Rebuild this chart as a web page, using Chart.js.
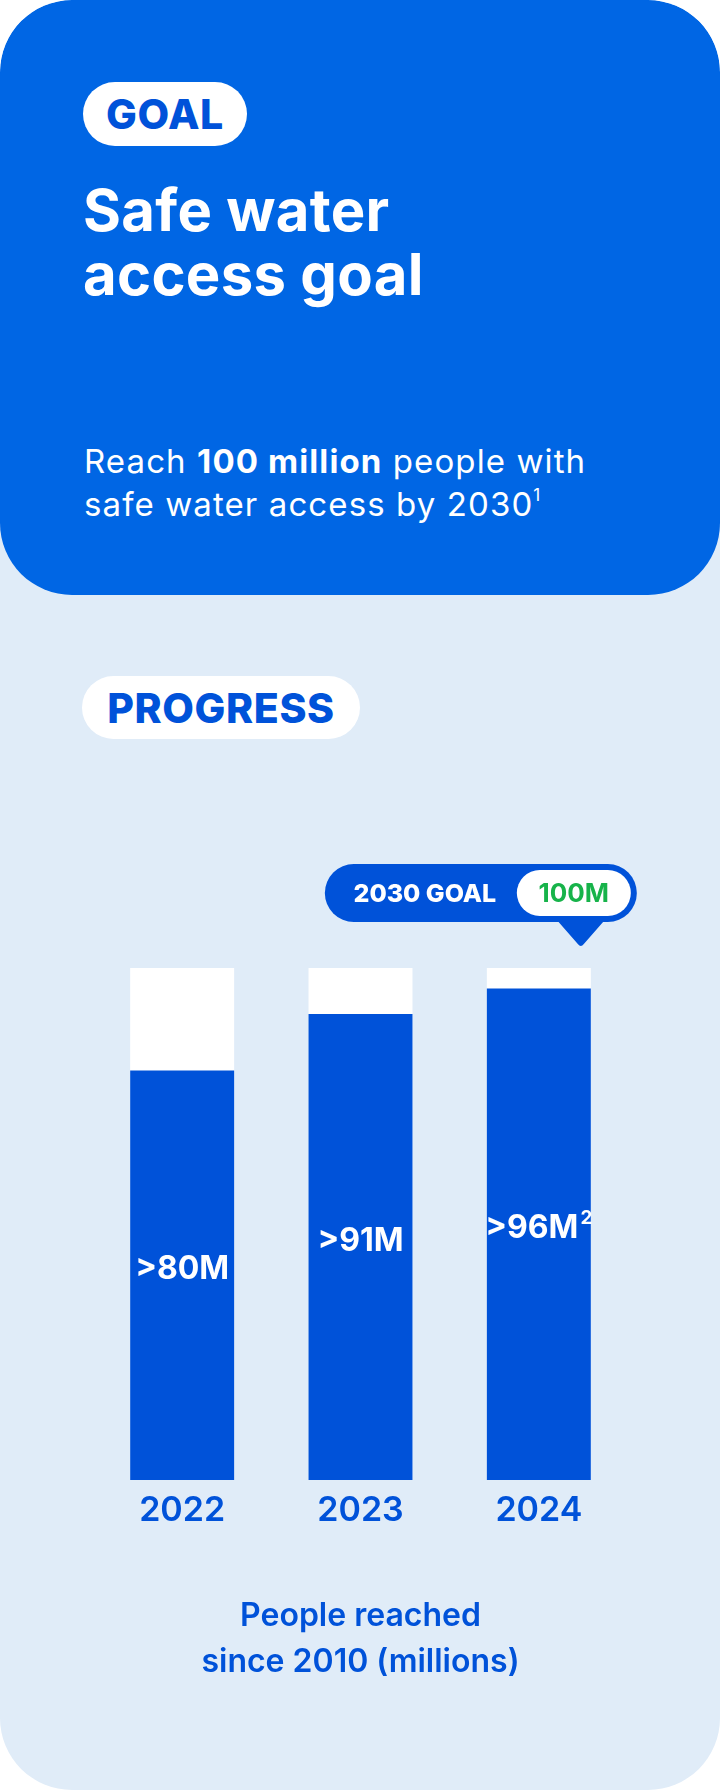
<!DOCTYPE html>
<html lang="en">
<head>
<meta charset="utf-8">
<title>Safe water access goal</title>
<script src="https://cdn.jsdelivr.net/npm/chart.js@4.4.1/dist/chart.umd.min.js"></script>
<style>
    html, body { margin: 0; padding: 0; background: #ffffff; }
    body { width: 720px; height: 1790px; font-family: Inter, "Noto Sans", sans-serif; }
    .panel {
        position: relative; width: 720px; height: 1790px;
        background: #E0ECF8; border-radius: 72px; overflow: hidden;
    }
    .goal-card {
        position: absolute; left: 0; top: 0; width: 720px; height: 595px;
        background: #0066E4; border-radius: 72px;
    }
    .pill {
        position: absolute; background: #ffffff; color: #0052D9;
        font-weight: 800; font-size: 41px; letter-spacing: 0.6px;
        display: flex; align-items: center; justify-content: center;
        border-radius: 32px; height: 64px;
    }
    .title {
        position: absolute; left: 83px; top: 178px; margin: 0;
        color: #ffffff; font-size: 58px; font-weight: 700; line-height: 64px;
        letter-spacing: 0.3px;
    }
    .subtitle {
        position: absolute; left: 84px; top: 440px; margin: 0;
        color: #ffffff; font-size: 33px; font-weight: 400; line-height: 43px;
        letter-spacing: 1.1px;
    }
    .subtitle b { font-weight: 700; }
    .subtitle sup { font-size: 17px; position: relative; top: -3px; vertical-align: top; line-height: 30px; letter-spacing: 0; }
    #chartBox { position: absolute; left: 0; top: 840px; width: 720px; height: 845px; }
</style>
</head>
<body>
<div class="panel">
    <div class="goal-card">
        <div class="pill" style="left:83px; top:82px; width:164px;">GOAL</div>
        <h1 class="title">Safe water<br>access goal</h1>
        <p class="subtitle">Reach <b>100 million</b> people with<br>safe water access by 2030<sup>1</sup></p>
    </div>
    <div class="pill" style="left:82px; top:676px; width:278px; height:63px;">PROGRESS</div>
    <div id="chartBox"><canvas id="progressChart"></canvas></div>
</div>

<script>
// 연도별 도달 인원 (백만 명)
const years = ['2022', '2023', '2024'];
const reachedValues = [80, 91, 96];
const goalValues = [100, 100, 100];
const barLabels = ['>80M', '>91M', '>96M'];
const barFootnotes = ['', '', '2'];
const axisTitle = ['People reached', 'since 2010 (millions)'];
const calloutText = '2030 GOAL';
const calloutValue = '100M';

const BAR_BLUE = '#0052D9';
const GOAL_GREEN = '#17B34A';
const FONT = 'Inter, "Noto Sans", sans-serif';

// 막대 안쪽 값 라벨
const barLabelPlugin = {
    id: 'barLabels',
    afterDatasetsDraw(chart) {
        const ctx = chart.ctx;
        const meta = chart.getDatasetMeta(0);
        ctx.save();
        ctx.fillStyle = '#ffffff';
        ctx.textBaseline = 'middle';
        ctx.textAlign = 'left';
        meta.data.forEach((bar, i) => {
            ctx.font = `700 32px ${FONT}`;
            const mainW = ctx.measureText(barLabels[i]).width;
            ctx.font = `700 19px ${FONT}`;
            const supW = barFootnotes[i] ? ctx.measureText(barFootnotes[i]).width + 2 : 0;
            const x0 = bar.x - (mainW + supW) / 2;
            const y = (bar.y + bar.base) / 2 - 6;
            ctx.font = `700 32px ${FONT}`;
            ctx.fillText(barLabels[i], x0, y);
            if (barFootnotes[i]) {
                ctx.font = `700 19px ${FONT}`;
                ctx.fillText(barFootnotes[i], x0 + mainW + 2, y - 10);
            }
        });
        ctx.restore();
    }
};

// 2030 목표 말풍선
const goalCalloutPlugin = {
    id: 'goalCallout',
    afterDraw(chart) {
        const ctx = chart.ctx;
        const meta = chart.getDatasetMeta(1);
        const bar = meta.data[meta.data.length - 1];
        const tipX = bar.x + 42;
        const tipY = bar.y - 22;
        const left = tipX - 256, right = tipX + 56;
        const top = tipY - 82, bottom = tipY - 24;
        const r = (bottom - top) / 2;

        ctx.save();
        ctx.fillStyle = BAR_BLUE;
        ctx.beginPath();
        ctx.roundRect(left, top, right - left, bottom - top, r);
        ctx.fill();
        // 꼬리
        ctx.beginPath();
        ctx.moveTo(tipX - 24, bottom - 2);
        ctx.lineTo(tipX + 24, bottom - 2);
        ctx.lineTo(tipX + 3, tipY - 2);
        ctx.quadraticCurveTo(tipX, tipY + 2, tipX - 3, tipY - 2);
        ctx.closePath();
        ctx.fill();

        // 안쪽 흰색 캡슐
        const inL = tipX - 64, inR = right - 6;
        const inT = top + 6, inB = bottom - 6;
        ctx.fillStyle = '#ffffff';
        ctx.beginPath();
        ctx.roundRect(inL, inT, inR - inL, inB - inT, (inB - inT) / 2);
        ctx.fill();

        ctx.textBaseline = 'middle';
        ctx.textAlign = 'center';
        ctx.font = `800 25px ${FONT}`;
        ctx.fillStyle = '#ffffff';
        ctx.fillText(calloutText, (left + inL) / 2 + 4, (top + bottom) / 2 + 1);
        ctx.fillStyle = GOAL_GREEN;
        ctx.font = `700 26px ${FONT}`;
        ctx.fillText(calloutValue, (inL + inR) / 2, (top + bottom) / 2 + 1);
        ctx.restore();
    }
};

function createProgressChart() {
    const ctx = document.getElementById('progressChart').getContext('2d');
    return new Chart(ctx, {
        type: 'bar',
        data: {
            labels: years,
            datasets: [
                {
                    label: 'Reached',
                    data: reachedValues,
                    backgroundColor: BAR_BLUE,
                    borderWidth: 0,
                    grouped: false,
                    barPercentage: 1,
                    categoryPercentage: 0.583
                },
                {
                    label: '2030 goal',
                    data: goalValues,
                    backgroundColor: '#ffffff',
                    borderWidth: 0,
                    grouped: false,
                    barPercentage: 1,
                    categoryPercentage: 0.583
                }
            ]
        },
        options: {
            responsive: true,
            maintainAspectRatio: false,
            animation: false,
            layout: {
                padding: { top: 128, left: 93, right: 92, bottom: 0 }
            },
            plugins: {
                legend: { display: false },
                tooltip: { enabled: false }
            },
            scales: {
                x: {
                    grid: { display: false, drawTicks: false },
                    border: { display: false },
                    ticks: {
                        color: BAR_BLUE,
                        padding: 10,
                        font: { family: FONT, size: 34, weight: '600', lineHeight: 1.2 }
                    },
                    title: {
                        display: true,
                        text: axisTitle,
                        color: BAR_BLUE,
                        padding: { top: 52, bottom: 0 },
                        font: { family: FONT, size: 32, weight: '600', lineHeight: 1.44 }
                    }
                },
                y: {
                    display: false,
                    min: 0,
                    max: 100
                }
            }
        },
        plugins: [barLabelPlugin, goalCalloutPlugin]
    });
}

createProgressChart();
</script>
</body>
</html>
